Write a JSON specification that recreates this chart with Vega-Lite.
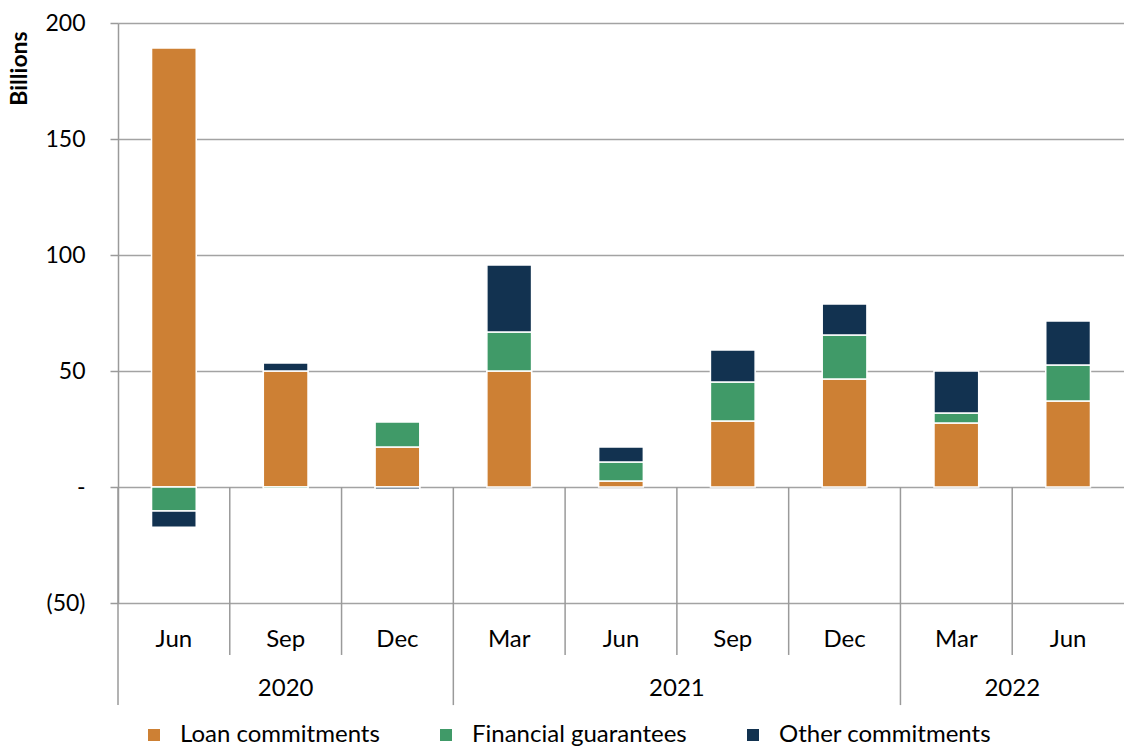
{
  "$schema": "https://vega.github.io/schema/vega-lite/v6.json",
  "width": 1006,
  "height": 580,
  "autosize": {"type": "none"},
  "padding": {"left": 118, "top": 23, "right": 0, "bottom": 143},
  "background": "white",
  "config": {
    "view": {"stroke": null},
    "font": "Lato",
    "text": {"font": "Lato"}
  },
  "datasets": {
    "bars": [
      {"period": "Jun 2020", "series": "Loan commitments", "value": 189.2},
      {"period": "Jun 2020", "series": "Financial guarantees", "value": -10.3},
      {"period": "Jun 2020", "series": "Other commitments", "value": -7.0},
      {"period": "Sep 2020", "series": "Loan commitments", "value": 50.0},
      {"period": "Sep 2020", "series": "Financial guarantees", "value": -0.8},
      {"period": "Sep 2020", "series": "Other commitments", "value": 3.4},
      {"period": "Dec 2020", "series": "Loan commitments", "value": 17.2},
      {"period": "Dec 2020", "series": "Financial guarantees", "value": 10.8},
      {"period": "Dec 2020", "series": "Other commitments", "value": -1.0},
      {"period": "Mar 2021", "series": "Loan commitments", "value": 50.0},
      {"period": "Mar 2021", "series": "Financial guarantees", "value": 16.8},
      {"period": "Mar 2021", "series": "Other commitments", "value": 28.9},
      {"period": "Jun 2021", "series": "Loan commitments", "value": 2.6},
      {"period": "Jun 2021", "series": "Financial guarantees", "value": 8.2},
      {"period": "Jun 2021", "series": "Other commitments", "value": 6.4},
      {"period": "Sep 2021", "series": "Loan commitments", "value": 28.4},
      {"period": "Sep 2021", "series": "Financial guarantees", "value": 16.9},
      {"period": "Sep 2021", "series": "Other commitments", "value": 13.8},
      {"period": "Dec 2021", "series": "Loan commitments", "value": 46.6},
      {"period": "Dec 2021", "series": "Financial guarantees", "value": 18.9},
      {"period": "Dec 2021", "series": "Other commitments", "value": 13.4},
      {"period": "Mar 2022", "series": "Loan commitments", "value": 27.6},
      {"period": "Mar 2022", "series": "Financial guarantees", "value": 4.3},
      {"period": "Mar 2022", "series": "Other commitments", "value": 18.1},
      {"period": "Jun 2022", "series": "Loan commitments", "value": 37.1},
      {"period": "Jun 2022", "series": "Financial guarantees", "value": 15.5},
      {"period": "Jun 2022", "series": "Other commitments", "value": 19.0}
    ],
    "monthEdges": [{"edge": 1}, {"edge": 2}, {"edge": 4}, {"edge": 5}, {"edge": 6}, {"edge": 8}],
    "yearEdges": [{"edge": 0}, {"edge": 3}, {"edge": 7}],
    "years": [
      {"year": "2020", "mid": 1.5},
      {"year": "2021", "mid": 5},
      {"year": "2022", "mid": 8}
    ]
  },
  "resolve": {"scale": {"x": "independent"}},
  "layer": [
    {
      "data": {"name": "bars"},
      "transform": [
        {"calculate": "indexof(['Loan commitments', 'Financial guarantees', 'Other commitments'], datum.series)", "as": "stackRank"}
      ],
      "mark": {"type": "bar", "stroke": "white", "strokeWidth": 1.5},
      "encoding": {
        "x": {
          "field": "period",
          "type": "nominal",
          "sort": null,
          "scale": {"paddingInner": 0.6, "paddingOuter": 0.3},
          "axis": {
            "title": null,
            "labelAngle": 0,
            "domain": false,
            "ticks": false,
            "grid": false,
            "labelExpr": "split(datum.label, ' ')[0]",
            "labelFont": "Lato",
            "labelFontSize": 24,
            "labelColor": "#000000",
            "labelPadding": 24
          }
        },
        "y": {
          "field": "value",
          "type": "quantitative",
          "stack": "zero",
          "scale": {"domain": [-50, 200], "nice": false, "zero": false},
          "axis": {
            "title": "Billions",
            "titleFont": "Lato",
            "titleFontSize": 23,
            "titleFontWeight": "bold",
            "titleColor": "#000000",
            "titleAngle": -90,
            "titleX": -99,
            "titleY": 45,
            "titleAlign": "center",
            "titleBaseline": "middle",
            "values": [-50, 0, 50, 100, 150, 200],
            "labelExpr": "datum.value == 0 ? '-' : (datum.value < 0 ? '(' + abs(datum.value) + ')' : datum.label)",
            "labelFont": "Lato",
            "labelFontSize": 23,
            "labelColor": "#000000",
            "labelPadding": 25,
            "tickSize": 8,
            "tickColor": "#9a9a9a",
            "tickWidth": 1.5,
            "domainColor": "#9a9a9a",
            "domainWidth": 1.5,
            "gridColor": "#a3a3a3",
            "gridWidth": 1.3
          }
        },
        "order": {"field": "stackRank", "type": "quantitative", "sort": "ascending"},
        "color": {
          "field": "series",
          "type": "nominal",
          "sort": ["Loan commitments", "Financial guarantees", "Other commitments"],
          "scale": {
            "domain": ["Loan commitments", "Financial guarantees", "Other commitments"],
            "range": ["#CD8034", "#409A68", "#123250"]
          },
          "legend": {
            "title": null,
            "orient": "none",
            "direction": "horizontal",
            "legendX": 24,
            "legendY": 700,
            "padding": 0,
            "symbolType": "square",
            "symbolSize": 144,
            "symbolStrokeWidth": 0,
            "labelFont": "Lato",
            "labelFontSize": 24,
            "labelColor": "#000000",
            "labelOffset": 14,
            "columnPadding": 54,
            "labelLimit": 400
          }
        }
      }
    },
    {
      "mark": {"type": "rule", "color": "#9a9a9a", "strokeWidth": 1.6},
      "encoding": {
        "y": {"datum": 0, "type": "quantitative", "scale": {"domain": [-50, 200], "nice": false, "zero": false}}
      }
    },
    {
      "data": {"name": "monthEdges"},
      "mark": {"type": "rule", "color": "#9a9a9a", "strokeWidth": 1.5},
      "encoding": {
        "x": {"field": "edge", "type": "quantitative", "scale": {"domain": [0, 9], "nice": false, "zero": false}, "axis": null},
        "y": {"datum": 0, "type": "quantitative", "scale": {"domain": [-50, 200], "nice": false, "zero": false}},
        "y2": {"datum": -72.4}
      }
    },
    {
      "data": {"name": "yearEdges"},
      "mark": {"type": "rule", "color": "#9a9a9a", "strokeWidth": 1.5},
      "encoding": {
        "x": {"field": "edge", "type": "quantitative", "scale": {"domain": [0, 9], "nice": false, "zero": false}, "axis": null},
        "y": {"datum": 0, "type": "quantitative", "scale": {"domain": [-50, 200], "nice": false, "zero": false}},
        "y2": {"datum": -94}
      }
    },
    {
      "data": {"name": "years"},
      "mark": {"type": "text", "font": "Lato", "fontSize": 24, "color": "#000000", "baseline": "middle", "align": "center"},
      "encoding": {
        "x": {"field": "mid", "type": "quantitative", "scale": {"domain": [0, 9], "nice": false, "zero": false}, "axis": null},
        "y": {"datum": -87, "type": "quantitative", "scale": {"domain": [-50, 200], "nice": false, "zero": false}},
        "text": {"field": "year"}
      }
    }
  ]
}
